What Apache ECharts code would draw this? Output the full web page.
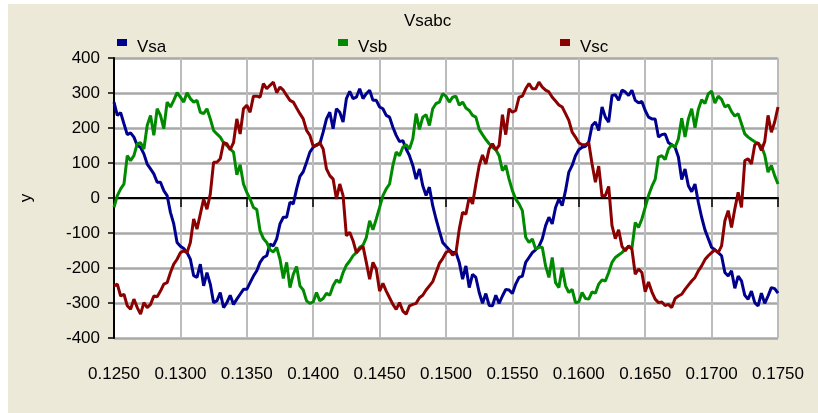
<!DOCTYPE html>
<html>
<head>
<meta charset="utf-8">
<script src="https://cdn.jsdelivr.net/npm/echarts@6/dist/echarts.min.js"></script>
<style>
  html, body { margin: 0; padding: 0; background: #ffffff; }
  #bg { position: absolute; left: 8px; top: 4px; width: 810px; height: 409px; background: #ECE9D8; }
  #chart { position: absolute; left: 0; top: 0; width: 818px; height: 413px; }
</style>
</head>
<body>
<div id="bg"></div>
<div id="chart"></div>
<script>
// Sample times: 0.1250 s to 0.1750 s, every 0.00025 s (201 samples)
const T_START = 0.125;
const T_STEP = 0.00025;
const N_SAMPLES = 201;

const seriesNames = ['Vsa', 'Vsb', 'Vsc'];
const xTicks = { min: 0.125, max: 0.175, interval: 0.005 };
const yTicks = { min: -400, max: 400, interval: 100 };

// Values
const vsa = [
  274,236,244,212,181,186,174,150,145,126,97,83,69,45,45,21,7,-41,-74,-127,
  -138,-144,-156,-175,-222,-227,-189,-251,-213,-246,-299,-294,-270,-313,
  -299,-278,-304,-289,-275,-261,-261,-242,-223,-208,-184,-170,-165,-132,-137,-117,
  -74,-55,-55,-12,-17,26,62,75,102,131,145,152,155,188,226,245,198,255,
  245,217,284,305,284,288,312,284,298,308,279,279,260,255,236,231,202,179,161,164,
  140,121,93,54,83,35,7,31,-22,-60,-94,-127,-138,-148,
  -156,-156,-184,-232,-194,-256,-218,-227,-270,-301,-273,-307,-308,-278,-301,-280,-261,-263,-273,-246,
  -227,-223,-184,-170,-156,-148,-138,-117,-79,-55,-74,-27,-3,
  -22,21,74,93,121,138,145,148,160,207,217,193,260,231,217,293,295,279,308,303,
  293,308,279,272,276,250,231,226,226,174,181,183,158,
  152,145,117,53,83,35,18,40,-12,-55,-91,-116,-141,-148,-156,-165,-213,-223,-208,-258,
  -223,-237,-278,-289,-266,-299,-308,-272,-301,-280,-256,-259,-272
];
const vsb = [
  -27,7,26,40,121,107,121,155,158,140,207,236,179,255,236,198,274,260,279,301,
  288,274,301,284,274,279,245,241,255,226,193,183,174,158,
  150,140,131,66,95,40,16,-3,-27,-33,-94,-116,-127,-148,-154,-141,-175,-230,-184,-256,
  -218,-196,-251,-263,-294,-301,-297,-270,-294,-287,-272,-278,-251,-234,
  -242,-213,-192,-180,-165,-156,-141,-135,-113,-65,-91,-60,-27,7,26,40,93,131,121,145,
  152,140,169,241,196,231,238,207,255,270,274,298,291,274,
  288,291,265,274,257,250,236,231,196,181,167,155,145,138,121,78,93,54,21,-3,
  -17,-36,-112,-127,-117,-146,-141,-141,-194,-227,-170,-242,-256,
  -199,-251,-270,-261,-299,-297,-270,-287,-289,-268,-272,-246,-234,-237,-213,-184,-170,-163,-156,-146,
  -138,-144,-70,-84,-60,-27,7,33,53,117,121,110,140,
  152,145,169,228,174,226,255,201,253,281,270,298,305,271,291,282,260,266,247,234,
  241,212,183,174,167,161,155,148,123,74,93,64,40
];
const vsc = [
  -251,-246,-280,-275,-308,-318,-289,-313,-332,-299,-313,-304,-280,-282,-266,-246,-242,-213,-189,-175,
  -156,-151,-156,-127,-60,-89,-46,-3,-32,11,102,102,112,158,
  155,138,158,226,183,255,265,245,291,291,288,327,312,322,331,301,317,308,293,279,
  274,257,241,226,193,179,148,150,158,140,83,64,54,-3,
  40,7,-108,-98,-122,-156,-146,-138,-184,-232,-184,-203,-266,-244,-266,-285,-304,-318,-299,-323,
  -332,-308,-304,-301,-285,-278,-263,-251,-239,-213,-187,-173,-156,-150,
  -163,-156,-89,-41,-46,2,-17,40,93,123,97,140,155,138,150,238,181,255,245,250,
  288,291,312,327,312,312,331,317,308,303,288,277,266,
  260,241,222,188,174,158,152,152,158,97,45,91,5,7,33,-79,-116,-91,-138,-151,
  -137,-146,-218,-203,-213,-268,-240,-268,-289,-299,-297,-307,-304,
  -313,-287,-280,-275,-261,-249,-237,-227,-208,-194,-176,-165,-156,-148,-156,-137,-65,-36,-84,-31,
  16,-27,107,112,97,152,158,136,161,236,188,217,260
];

const times = [];
for (let k = 0; k < N_SAMPLES; k++) times.push(+(T_START + k * T_STEP).toFixed(5));

const colors = ['#00008F', '#008A00', '#8B0000'];
const valuesList = [vsa, vsb, vsc];

const FONT = '"Liberation Sans", Arial, sans-serif';
const chart = echarts.init(document.getElementById('chart'), null, { renderer: 'canvas' });

const legendLefts = [117, 338, 560];
// legend marker: a 10x7 square sitting in the upper part of a 10x17 box
const LEGEND_ICON = 'path://M0 0L10 0L10 7L0 7Z M0 17L0.01 17';

chart.setOption({
  animation: false,
  backgroundColor: 'transparent',
  title: {
    text: 'Vsabc', left: 404, top: 13, padding: 0,
    textStyle: { fontFamily: FONT, fontSize: 17, fontWeight: 'normal', color: '#000' }
  },
  legend: seriesNames.map((n, i) => ({
    data: [n], left: legendLefts[i], top: 39, padding: 0,
    icon: LEGEND_ICON, itemWidth: 10, itemHeight: 17,
    textStyle: { fontFamily: FONT, fontSize: 17, color: '#000', padding: [0, 0, 0, 5] }
  })),
  grid: {
    left: 114, right: 40, top: 58, bottom: 75,
    show: true, backgroundColor: '#ffffff', borderWidth: 0
  },
  xAxis: {
    type: 'value', min: xTicks.min, max: xTicks.max, interval: xTicks.interval,
    offset: 16,
    axisLine: { show: true, lineStyle: { color: '#000', width: 2 } },
    axisTick: { show: true, length: 9, lineStyle: { color: '#000', width: 1.5 } },
    axisLabel: { fontFamily: FONT, fontSize: 17, color: '#000', margin: 12,
      formatter: v => v.toFixed(4) },
    splitLine: { show: true, lineStyle: { color: '#bcbcbc', width: 2 } }
  },
  yAxis: {
    type: 'value', min: yTicks.min, max: yTicks.max, interval: yTicks.interval,
    name: 'y', nameLocation: 'middle', nameGap: 79, nameRotate: 90,
    nameTextStyle: { fontFamily: FONT, fontSize: 17, color: '#000' },
    axisLine: { show: true, lineStyle: { color: '#000', width: 2 } },
    axisTick: { show: true, length: 6, lineStyle: { color: '#000', width: 1.5 } },
    axisLabel: { fontFamily: FONT, fontSize: 17, color: '#000', margin: 14 },
    splitLine: { show: true, lineStyle: { color: '#a8a8a8', width: 2.5 } }
  },
  series: seriesNames.map((n, i) => ({
    name: n, type: 'line', showSymbol: false, symbol: 'none',
    color: colors[i],
    lineStyle: { color: colors[i], width: 3 },
    data: times.map((t, k) => [t, valuesList[i][k]])
  }))
});
</script>
</body>
</html>
